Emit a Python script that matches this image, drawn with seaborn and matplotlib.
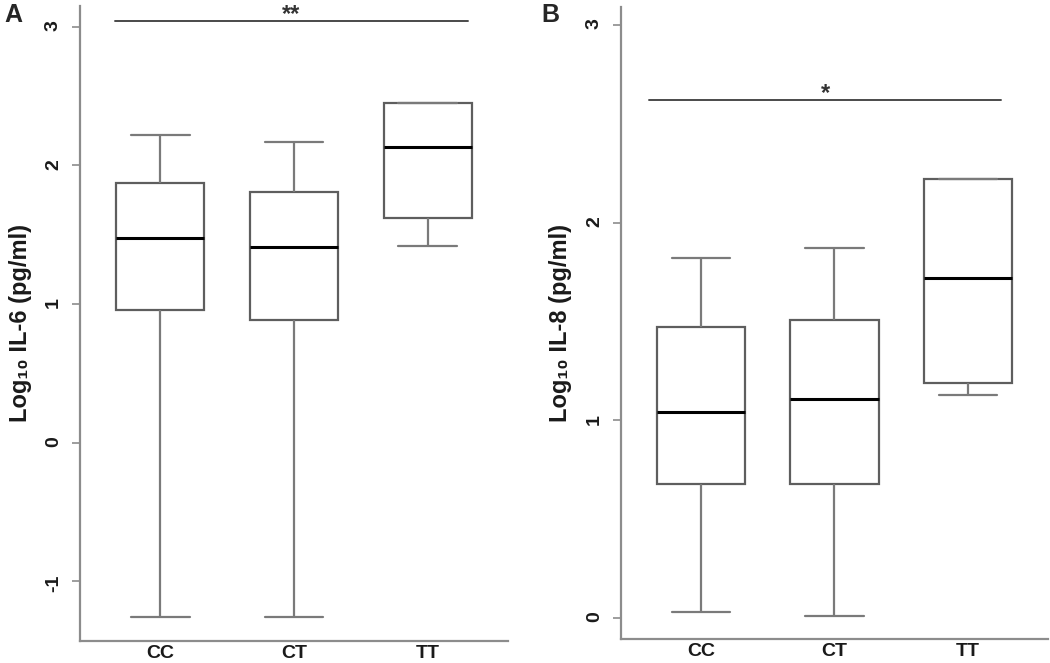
import numpy as np
import pandas as pd
import seaborn as sns
import matplotlib.pyplot as plt

genotypes = ['CC', 'CT', 'TT']

# five-number summaries: min, Q1, median, Q3, max
il6_cc = [-1.26, 0.96, 1.475, 1.87, 2.22]
il6_ct = [-1.26, 0.885, 1.41, 1.81, 2.17]
il6_tt = [1.42, 1.62, 2.13, 2.45, 2.45]

il8_cc = [0.03, 0.68, 1.04, 1.47, 1.82]
il8_ct = [0.01, 0.68, 1.11, 1.51, 1.87]
il8_tt = [1.13, 1.19, 1.72, 2.22, 2.22]

il6_ticks = [-1, 0, 1, 2, 3]
il8_ticks = [0, 1, 2, 3]

il6_sig_level = 3.04
il8_sig_level = 2.62

sns.set_style('white')
plt.rcParams['font.family'] = ['Liberation Sans', 'DejaVu Sans']

fig = plt.figure(figsize=(10.5, 6.63), dpi=100)
ax_a = fig.add_axes([0.0762, 0.0332, 0.4076, 0.958])
ax_b = fig.add_axes([0.5914, 0.0362, 0.4067, 0.953])


def panel(ax, groups, ticks, ylim, ylabel, sig_level, sig_span, stars):
    df = pd.DataFrame({'genotype': np.repeat(genotypes, 5),
                       'value': np.concatenate(groups)})
    sns.boxplot(data=df, x='genotype', y='value', order=genotypes, ax=ax,
                whis=(0, 100), width=0.66, color='white', linecolor='#5e5e5e',
                linewidth=1.6, capwidths=0.44,
                medianprops=dict(color='black', linewidth=2.2),
                whiskerprops=dict(color='#7a7a7a', linewidth=1.6),
                capprops=dict(color='#7a7a7a', linewidth=1.6))
    ax.set_xlim(-0.6, 2.6)
    ax.set_ylim(*ylim)
    ax.set_yticks(ticks)
    ax.set_yticklabels([str(t) for t in ticks], fontweight='bold')
    for s in ['top', 'right']:
        ax.spines[s].set_visible(False)
    for s in ['left', 'bottom']:
        ax.spines[s].set_color('#8c8c8c')
        ax.spines[s].set_linewidth(1.6)
    ax.tick_params(axis='y', direction='out', length=6, width=1.2,
                   color='#8c8c8c', labelsize=14, pad=7, labelrotation=90,
                   labelcolor='#1a1a1a', left=True)
    ax.tick_params(axis='x', length=0, labelsize=14, pad=3,
                   labelcolor='#1a1a1a')
    for lab in ax.get_xticklabels():
        lab.set_fontweight('bold')
    ax.set_xlabel('')
    ax.set_ylabel(ylabel, fontsize=17, fontweight='bold', color='#1a1a1a')
    ax.plot(sig_span, [sig_level, sig_level], color='#4a4a4a', lw=1.4)
    ax.text(np.mean(sig_span), sig_level, stars, ha='center', va='baseline',
            fontsize=17, fontweight='bold', color='#333333')


panel(ax_a, [il6_cc, il6_ct, il6_tt], il6_ticks, (-1.43, 3.15),
      'Log₁₀ IL-6 (pg/ml)', il6_sig_level, [-0.34, 2.30], '**')
panel(ax_b, [il8_cc, il8_ct, il8_tt], il8_ticks, (-0.106, 3.09),
      'Log₁₀ IL-8 (pg/ml)', il8_sig_level, [-0.39, 2.25], '*')
ax_a.yaxis.set_label_coords(-0.112, 0.5)
ax_b.yaxis.set_label_coords(-0.115, 0.5)

fig.text(0.004, 0.978, 'A', fontsize=18, fontweight='bold', va='center')
fig.text(0.516, 0.978, 'B', fontsize=18, fontweight='bold', va='center')

fig.savefig('out.png', dpi=100)
